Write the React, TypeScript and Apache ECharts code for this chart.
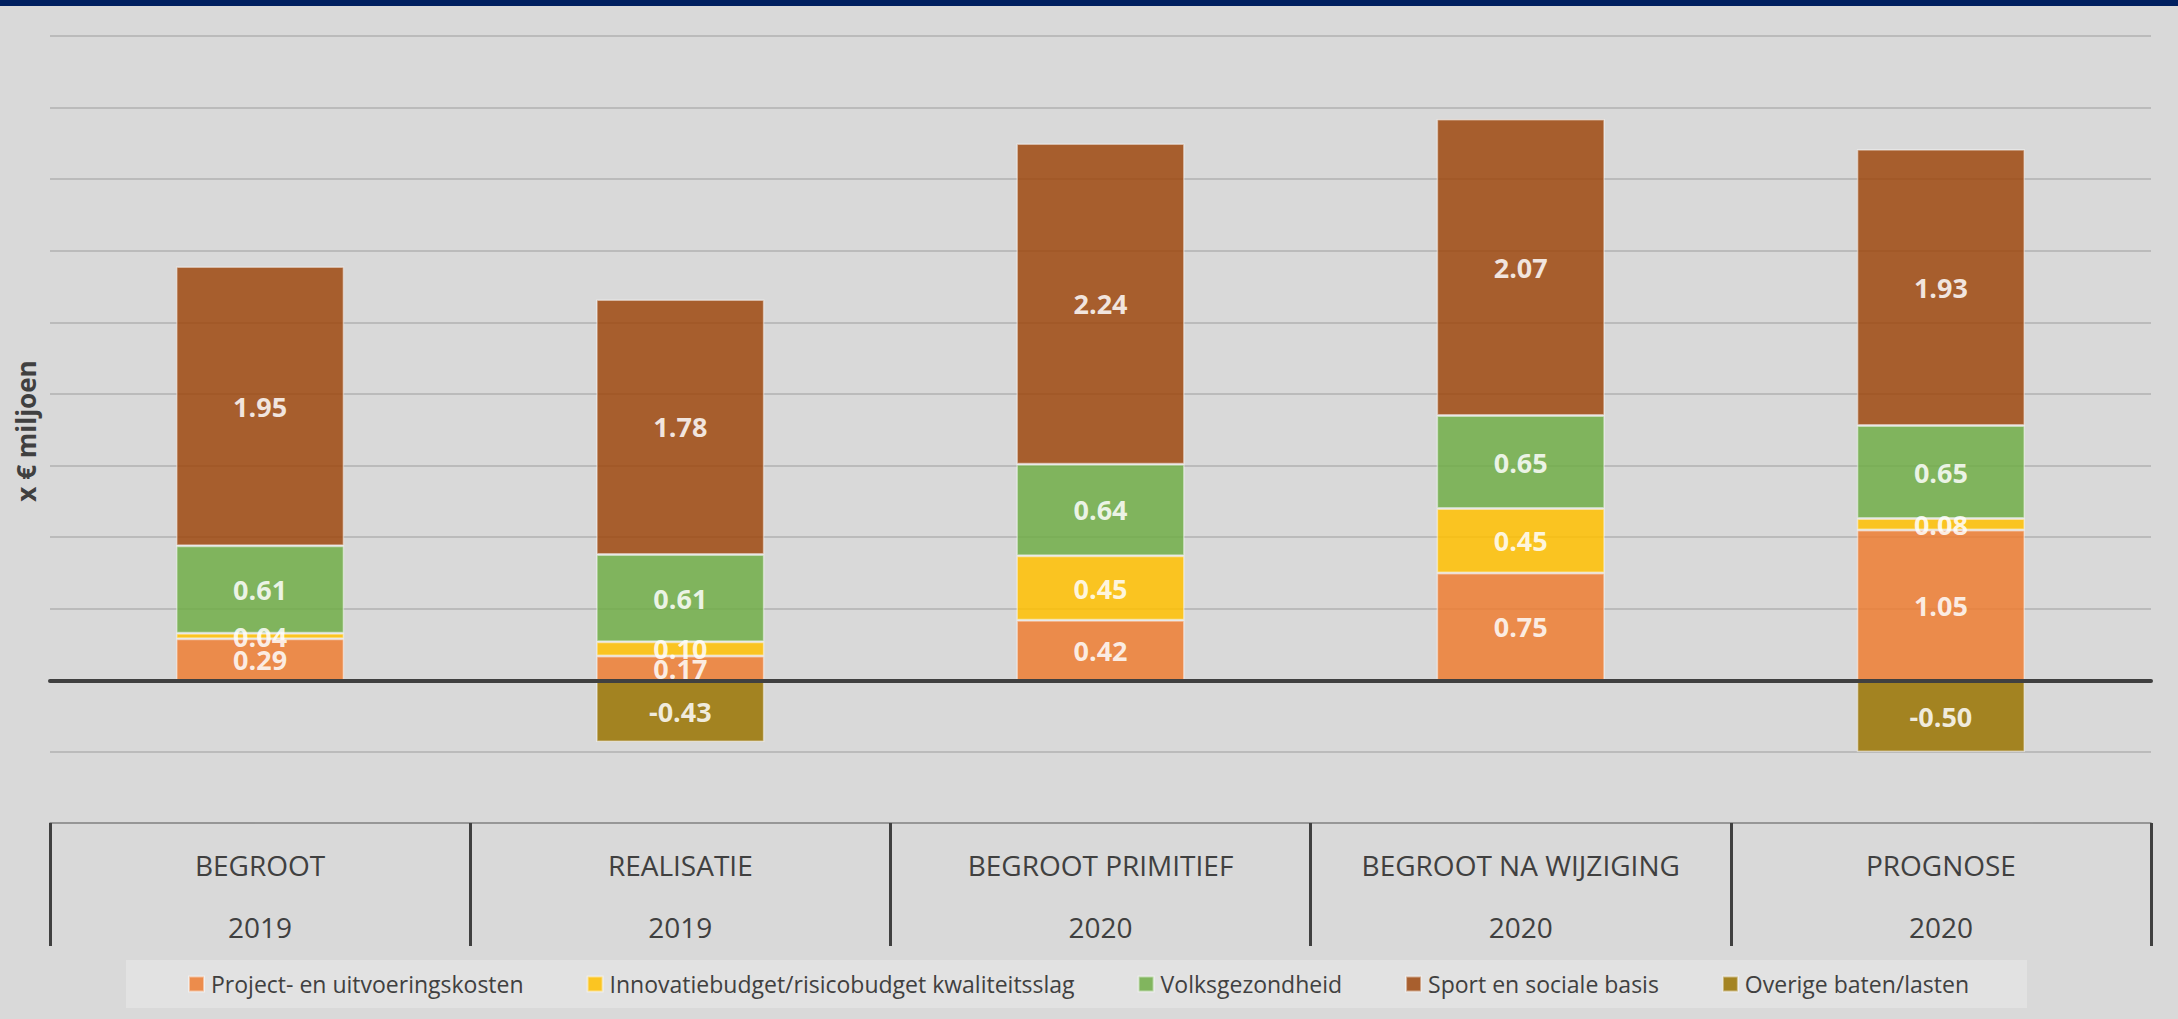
import React, { useEffect, useRef } from "react";
import * as echarts from "echarts";

const categories = ["BEGROOT", "REALISATIE", "BEGROOT PRIMITIEF", "BEGROOT NA WIJZIGING", "PROGNOSE"];
const years = ["2019", "2019", "2020", "2020", "2020"];

const seriesNames = [
  "Project- en uitvoeringskosten",
  "Innovatiebudget/risicobudget kwaliteitsslag",
  "Volksgezondheid",
  "Sport en sociale basis",
  "Overige baten/lasten",
];
const projectKosten = [0.29, 0.17, 0.42, 0.75, 1.05];
const innovatie = [0.04, 0.1, 0.45, 0.45, 0.08];
const volksgezondheid = [0.61, 0.61, 0.64, 0.65, 0.65];
const sport = [1.95, 1.78, 2.24, 2.07, 1.93];
const overige = [null, -0.43, null, null, -0.5];
const seriesColors = ["#ED7D31", "#FFC000", "#70AD47", "#9E480E", "#997300"];

const yMin = -0.5;
const yMax = 4.5;
const yInterval = 0.5;

const FONT = "Open Sans";

export default function App() {
  const ref = useRef<HTMLDivElement>(null);

  useEffect(() => {
    if (!ref.current) return;
    const chart = echarts.init(ref.current, undefined, { renderer: "svg" });
    const dataSets = [projectKosten, innovatie, volksgezondheid, sport, overige];

    const series = dataSets.map((d, i) => ({
      name: seriesNames[i],
      type: "bar",
      stack: "total",
      xAxisIndex: 0,
      barCategoryGap: "60%",
      data: d,
      itemStyle: {
        color: seriesColors[i],
        opacity: 0.85,
        borderColor: "rgba(255,255,255,0.55)",
        borderWidth: 1.5,
      },
      label: {
        show: true,
        position: "inside",
        color: "#FFFFFF",
        fontFamily: FONT,
        fontWeight: "bold",
        fontSize: 27,
        formatter: (p: any) => (p.value == null ? "" : Number(p.value).toFixed(2)),
      },
      emphasis: { disabled: true },
    }));

    chart.setOption({
      animation: false,
      backgroundColor: "#D9D9D9",
      textStyle: { fontFamily: FONT },
      grid: { left: 50, top: 36, width: 2101, height: 716, containLabel: false },
      xAxis: [
        {
          type: "category",
          data: categories,
          position: "bottom",
          axisLine: { show: true, onZero: true, lineStyle: { color: "#404040", width: 4 } },
          axisTick: { show: false },
          axisLabel: { show: false },
          splitLine: { show: false },
          z: 5,
        },
        {
          type: "category",
          data: categories,
          position: "bottom",
          offset: 71,
          axisLine: { show: true, onZero: false, lineStyle: { color: "#808080", width: 1.5 } },
          axisTick: {
            show: true,
            interval: 0,
            length: 123,
            inside: false,
            lineStyle: { color: "#404040", width: 3 },
          },
          axisLabel: {
            show: true,
            interval: 0,
            margin: 11,
            color: "#404040",
            fontFamily: FONT,
            fontSize: 28,
            lineHeight: 62,
            formatter: (v: string, i: number) => v + "\n" + years[i],
          },
          splitLine: { show: false },
        },
      ],
      yAxis: {
        type: "value",
        min: yMin,
        max: yMax,
        interval: yInterval,
        axisLine: { show: false },
        axisTick: { show: false },
        axisLabel: { show: false },
        splitLine: { show: true, lineStyle: { color: "#B0B0B0", width: 1.5 } },
      },
      legend: {
        data: seriesNames,
        left: 188,
        top: 972,
        padding: 0,
        itemGap: 63,
        itemWidth: 15,
        itemHeight: 15,
        icon: "rect",
        textStyle: {
          fontFamily: FONT,
          fontSize: 23,
          color: "#404040",
          lineHeight: 24,
          padding: [0, 0, 0, 2],
        },
        selectedMode: false,
      },
      graphic: [
        {
          type: "rect",
          z: -10,
          shape: { x: 0, y: 0, width: 2178, height: 6 },
          style: { fill: "#002060" },
        },
        {
          type: "rect",
          z: -10,
          shape: { x: 126, y: 960, width: 1901, height: 48 },
          style: { fill: "#E2E2E2" },
        },
        {
          type: "text",
          x: 26,
          y: 431,
          rotation: Math.PI / 2,
          style: {
            text: "x € miljoen",
            fontFamily: FONT,
            fontWeight: "bold",
            fontSize: 26,
            fill: "#404040",
            textAlign: "center",
            textVerticalAlign: "middle",
          },
        },
      ],
      series,
    });

    return () => chart.dispose();
  }, []);

  return (
    <div
      ref={ref}
      style={{ position: "absolute", left: 0, top: 0, width: 2178, height: 1019 }}
    />
  );
}
